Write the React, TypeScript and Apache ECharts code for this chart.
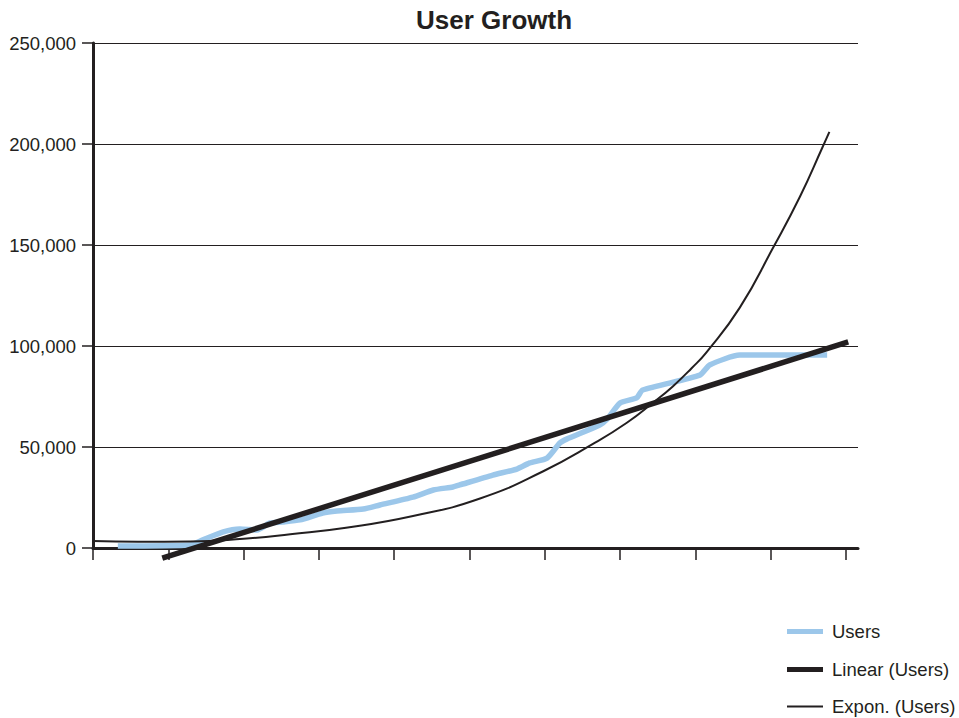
import React, { useEffect, useRef } from "react";
import * as echarts from "echarts";

// x positions are in "period" units (axis ticks at every period, unlabeled)
const periodTicks = [0, 1, 2, 3, 4, 5, 6, 7, 8, 9, 10];
const yTicks = [0, 50000, 100000, 150000, 200000, 250000];

const usersX = [0.33, 1.29, 1.46, 1.73, 1.95, 2.18, 2.35, 2.52, 2.75, 3.05, 3.24, 3.59, 3.81, 4.25, 4.52, 4.78, 4.87, 5.31, 5.63, 5.8, 6.03, 6.2, 6.29, 6.73, 6.83, 7.0, 7.22, 7.3, 8.06, 8.19, 8.59, 9.75];
const usersY = [1000, 1500, 4000, 8000, 9400, 8900, 12400, 12900, 13900, 17300, 18300, 19300, 21300, 25200, 28700, 30200, 31200, 36100, 39100, 42100, 44500, 52000, 53900, 60900, 63900, 71800, 74300, 78200, 85600, 90600, 95500, 95500];

const linearX = [0.92, 10.03];
const linearY = [-5000, 102000];

const exponX = [0, 0.6, 1.29, 2.0, 2.62, 3.36, 4.25, 5.14, 5.98, 6.64, 7.09, 7.44, 7.7, 7.95, 8.15, 8.59, 9.03, 9.39, 9.69, 9.78];
const exponY = [3500, 3100, 3200, 4600, 6800, 10000, 15800, 24500, 38000, 51500, 62000, 72000, 80000, 89000, 97000, 119000, 148500, 174000, 198500, 206000];

const seriesNames = ["Users", "Linear (Users)", "Expon. (Users)"];

const zip = (xs: number[], ys: number[]) => xs.map((x, i) => [x, ys[i]]);

const FONT = "'Liberation Sans', Arial, Helvetica, sans-serif";
const INK = "#231f20";
const BLUE = "#9cc7ea";

export default function App() {
  const ref = useRef<HTMLDivElement>(null);
  useEffect(() => {
    if (!ref.current) return;
    const chart = echarts.init(ref.current, null, { renderer: "svg" });
    const legendBase = {
      left: 787,
      orient: "vertical" as const,
      itemWidth: 36,
      itemGap: 10,
      icon: "rect",
      padding: 0,
      textStyle: { fontFamily: FONT, fontSize: 18.5, color: INK, lineHeight: 19, padding: [0, 0, 0, 4] },
    };
    chart.setOption({
      animation: false,
      backgroundColor: "#ffffff",
      title: {
        text: "User Growth",
        left: 411,
        top: 2,
        textStyle: { fontFamily: FONT, fontSize: 26, fontWeight: "bold", color: INK },
      },
      grid: { left: 93, right: 101, top: 43, bottom: 170, containLabel: false },
      legend: [
        { ...legendBase, top: 622, itemHeight: 5, data: [{ name: seriesNames[0], itemStyle: { color: BLUE } }] },
        { ...legendBase, top: 660, itemHeight: 5, data: [{ name: seriesNames[1], itemStyle: { color: INK } }] },
        { ...legendBase, top: 697, itemHeight: 2, data: [{ name: seriesNames[2], itemStyle: { color: INK } }] },
      ],
      xAxis: {
        type: "value",
        min: 0,
        max: 10.16,
        axisLine: { show: true, onZero: false, lineStyle: { color: INK, width: 3 } },
        axisTick: {
          show: true,
          inside: false,
          length: 12,
          customValues: periodTicks,
          lineStyle: { color: INK, width: 1.5 },
        },
        axisLabel: { show: false },
        splitLine: { show: false },
      },
      yAxis: {
        type: "value",
        min: 0,
        max: 250000,
        interval: 50000,
        axisLine: { show: true, lineStyle: { color: INK, width: 3 } },
        axisTick: { show: true, inside: false, length: 11, lineStyle: { color: INK, width: 1.5 } },
        axisLabel: {
          margin: 17,
          fontFamily: FONT,
          fontSize: 18.5,
          color: INK,
          customValues: yTicks,
          formatter: (v: number) => v.toString().replace(/\B(?=(\d{3})+(?!\d))/g, ","),
        },
        splitLine: { show: true, lineStyle: { color: INK, width: 1 } },
      },
      series: [
        {
          name: seriesNames[0],
          type: "line",
          data: zip(usersX, usersY),
          showSymbol: false,
          symbol: "none",
          smooth: 0.2,
          clip: false,
          color: BLUE,
          lineStyle: { color: BLUE, width: 5.5, cap: "butt", join: "round" },
          z: 2,
        },
        {
          name: seriesNames[1],
          type: "line",
          data: zip(linearX, linearY),
          showSymbol: false,
          symbol: "none",
          clip: false,
          color: INK,
          lineStyle: { color: INK, width: 5.5, cap: "butt" },
          z: 3,
        },
        {
          name: seriesNames[2],
          type: "line",
          data: zip(exponX, exponY),
          showSymbol: false,
          symbol: "none",
          smooth: 0.5,
          clip: false,
          color: INK,
          lineStyle: { color: INK, width: 2 },
          z: 4,
        },
      ],
    });
    return () => chart.dispose();
  }, []);
  return (
    <div
      ref={ref}
      style={{ position: "absolute", left: 0, top: 0, width: 959, height: 718 }}
    />
  );
}
